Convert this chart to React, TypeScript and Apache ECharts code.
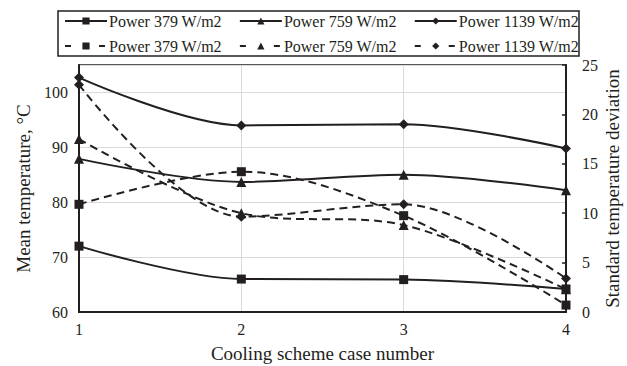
import React, { useEffect, useRef } from "react";
import * as echarts from "echarts";

const caseNumbers = [1, 2, 3, 4];
const meanTemp379 = [72, 66, 65.9, 64.2];
const meanTemp759 = [87.9, 83.7, 85.0, 82.2];
const meanTemp1139 = [102.7, 94, 94.2, 89.8];
const stdDev379 = [10.9, 14.2, 9.75, 0.7];
const stdDev759 = [17.5, 10.0, 8.8, 2.3];
const stdDev1139 = [23.0, 9.65, 10.9, 3.4];
const solidNames = ["Power 379 W/m2", "Power 759 W/m2", "Power 1139 W/m2"];
const dashedNames = ["Power 379 W/m2 ", "Power 759 W/m2 ", "Power 1139 W/m2 "];
const symbols = ["rect", "triangle", "diamond"];
const symbolSizes = [9, 10, 10];

const FONT = "Liberation Serif";
const INK = "#231f20";

export default function App() {
  const ref = useRef<HTMLDivElement>(null);
  useEffect(() => {
    if (!ref.current) return;
    const chart = echarts.init(ref.current, null, { renderer: "svg" });
    const pts = (vals: number[]) => caseNumbers.map((c, i) => [c, vals[i]]);
    const solid = [meanTemp379, meanTemp759, meanTemp1139];
    const dashed = [stdDev379, stdDev759, stdDev1139];
    const series: any[] = [];
    solid.forEach((vals, i) => {
      series.push({
        name: solidNames[i],
        type: "line",
        yAxisIndex: 0,
        data: pts(vals),
        smooth: 0.33,
        symbol: symbols[i],
        symbolSize: symbolSizes[i],
        lineStyle: { color: INK, width: 2, type: "solid" },
        itemStyle: { color: INK },
      });
    });
    dashed.forEach((vals, i) => {
      series.push({
        name: dashedNames[i],
        type: "line",
        yAxisIndex: 1,
        data: pts(vals),
        smooth: 0.33,
        symbol: symbols[i],
        symbolSize: symbolSizes[i],
        lineStyle: { color: INK, width: 2, type: [8, 5] },
        itemStyle: { color: INK },
      });
    });
    const legendCommon = {
      orient: "horizontal",
      left: 64,
      itemWidth: 42,
      itemHeight: 9,
      itemGap: 17,
      padding: 0,
      selectedMode: false,
      formatter: (name: string) => name.trim(),
      textStyle: { fontFamily: FONT, fontSize: 16, color: INK, padding: [0, 0, 0, -3] },
    };
    chart.setOption({
      animation: false,
      textStyle: { fontFamily: FONT },
      graphic: [
        {
          type: "rect",
          shape: { x: 58, y: 11, width: 521, height: 45 },
          style: { fill: "none", stroke: INK, lineWidth: 1.5 },
        },
      ],
      legend: [
        { ...legendCommon, top: 13, data: solidNames },
        {
          ...legendCommon,
          top: 38,
          data: dashedNames,
          lineStyle: { type: [6, 28], width: 2, color: INK },
        },
      ],
      grid: {
        left: 79,
        right: 61,
        top: 65,
        bottom: 54,
        outerBoundsMode: "none",
        containLabel: false,
        show: true,
        borderColor: INK,
        borderWidth: 1.5,
        backgroundColor: "transparent",
      },
      xAxis: {
        type: "value",
        min: 1,
        max: 4,
        interval: 1,
        name: "Cooling scheme case number",
        nameLocation: "middle",
        nameGap: 32,
        nameTextStyle: { fontFamily: FONT, fontSize: 19, color: INK },
        axisLine: { lineStyle: { color: INK, width: 2 } },
        axisTick: { show: false },
        axisLabel: { fontFamily: FONT, fontSize: 16, color: INK, margin: 9 },
        splitLine: { show: true, lineStyle: { color: "#d9d9d9", width: 1 } },
      },
      yAxis: [
        {
          type: "value",
          min: 60,
          max: 105,
          interval: 10,
          name: "Mean temperature, °C",
          nameLocation: "middle",
          nameGap: 44,
          nameRotate: 90,
          nameTextStyle: { fontFamily: FONT, fontSize: 19, color: INK },
          axisLine: { show: true, lineStyle: { color: INK, width: 2 } },
          axisTick: { show: false },
          axisLabel: {
            fontFamily: FONT,
            fontSize: 16,
            color: INK,
            margin: 11,
            formatter: (v: number) => (v > 100 ? "" : String(v)),
          },
          splitLine: { show: true, lineStyle: { color: "#d9d9d9", width: 1 } },
        },
        {
          type: "value",
          min: 0,
          max: 25,
          interval: 5,
          position: "right",
          name: "Standard temperature deviation",
          nameLocation: "middle",
          nameGap: 37,
          nameMoveOverlap: false,
          nameRotate: 90,
          nameTextStyle: { fontFamily: FONT, fontSize: 19, color: INK },
          axisLine: { show: true, lineStyle: { color: INK, width: 2 } },
          axisTick: { show: true, inside: true, length: 4, lineStyle: { color: INK, width: 1.5 } },
          axisLabel: { fontFamily: FONT, fontSize: 16, color: INK, margin: 16 },
          splitLine: { show: false },
        },
      ],
      series,
    });
    return () => chart.dispose();
  }, []);
  return (
    <div
      ref={ref}
      style={{ position: "absolute", left: 0, top: 0, width: 627, height: 366 }}
    />
  );
}
